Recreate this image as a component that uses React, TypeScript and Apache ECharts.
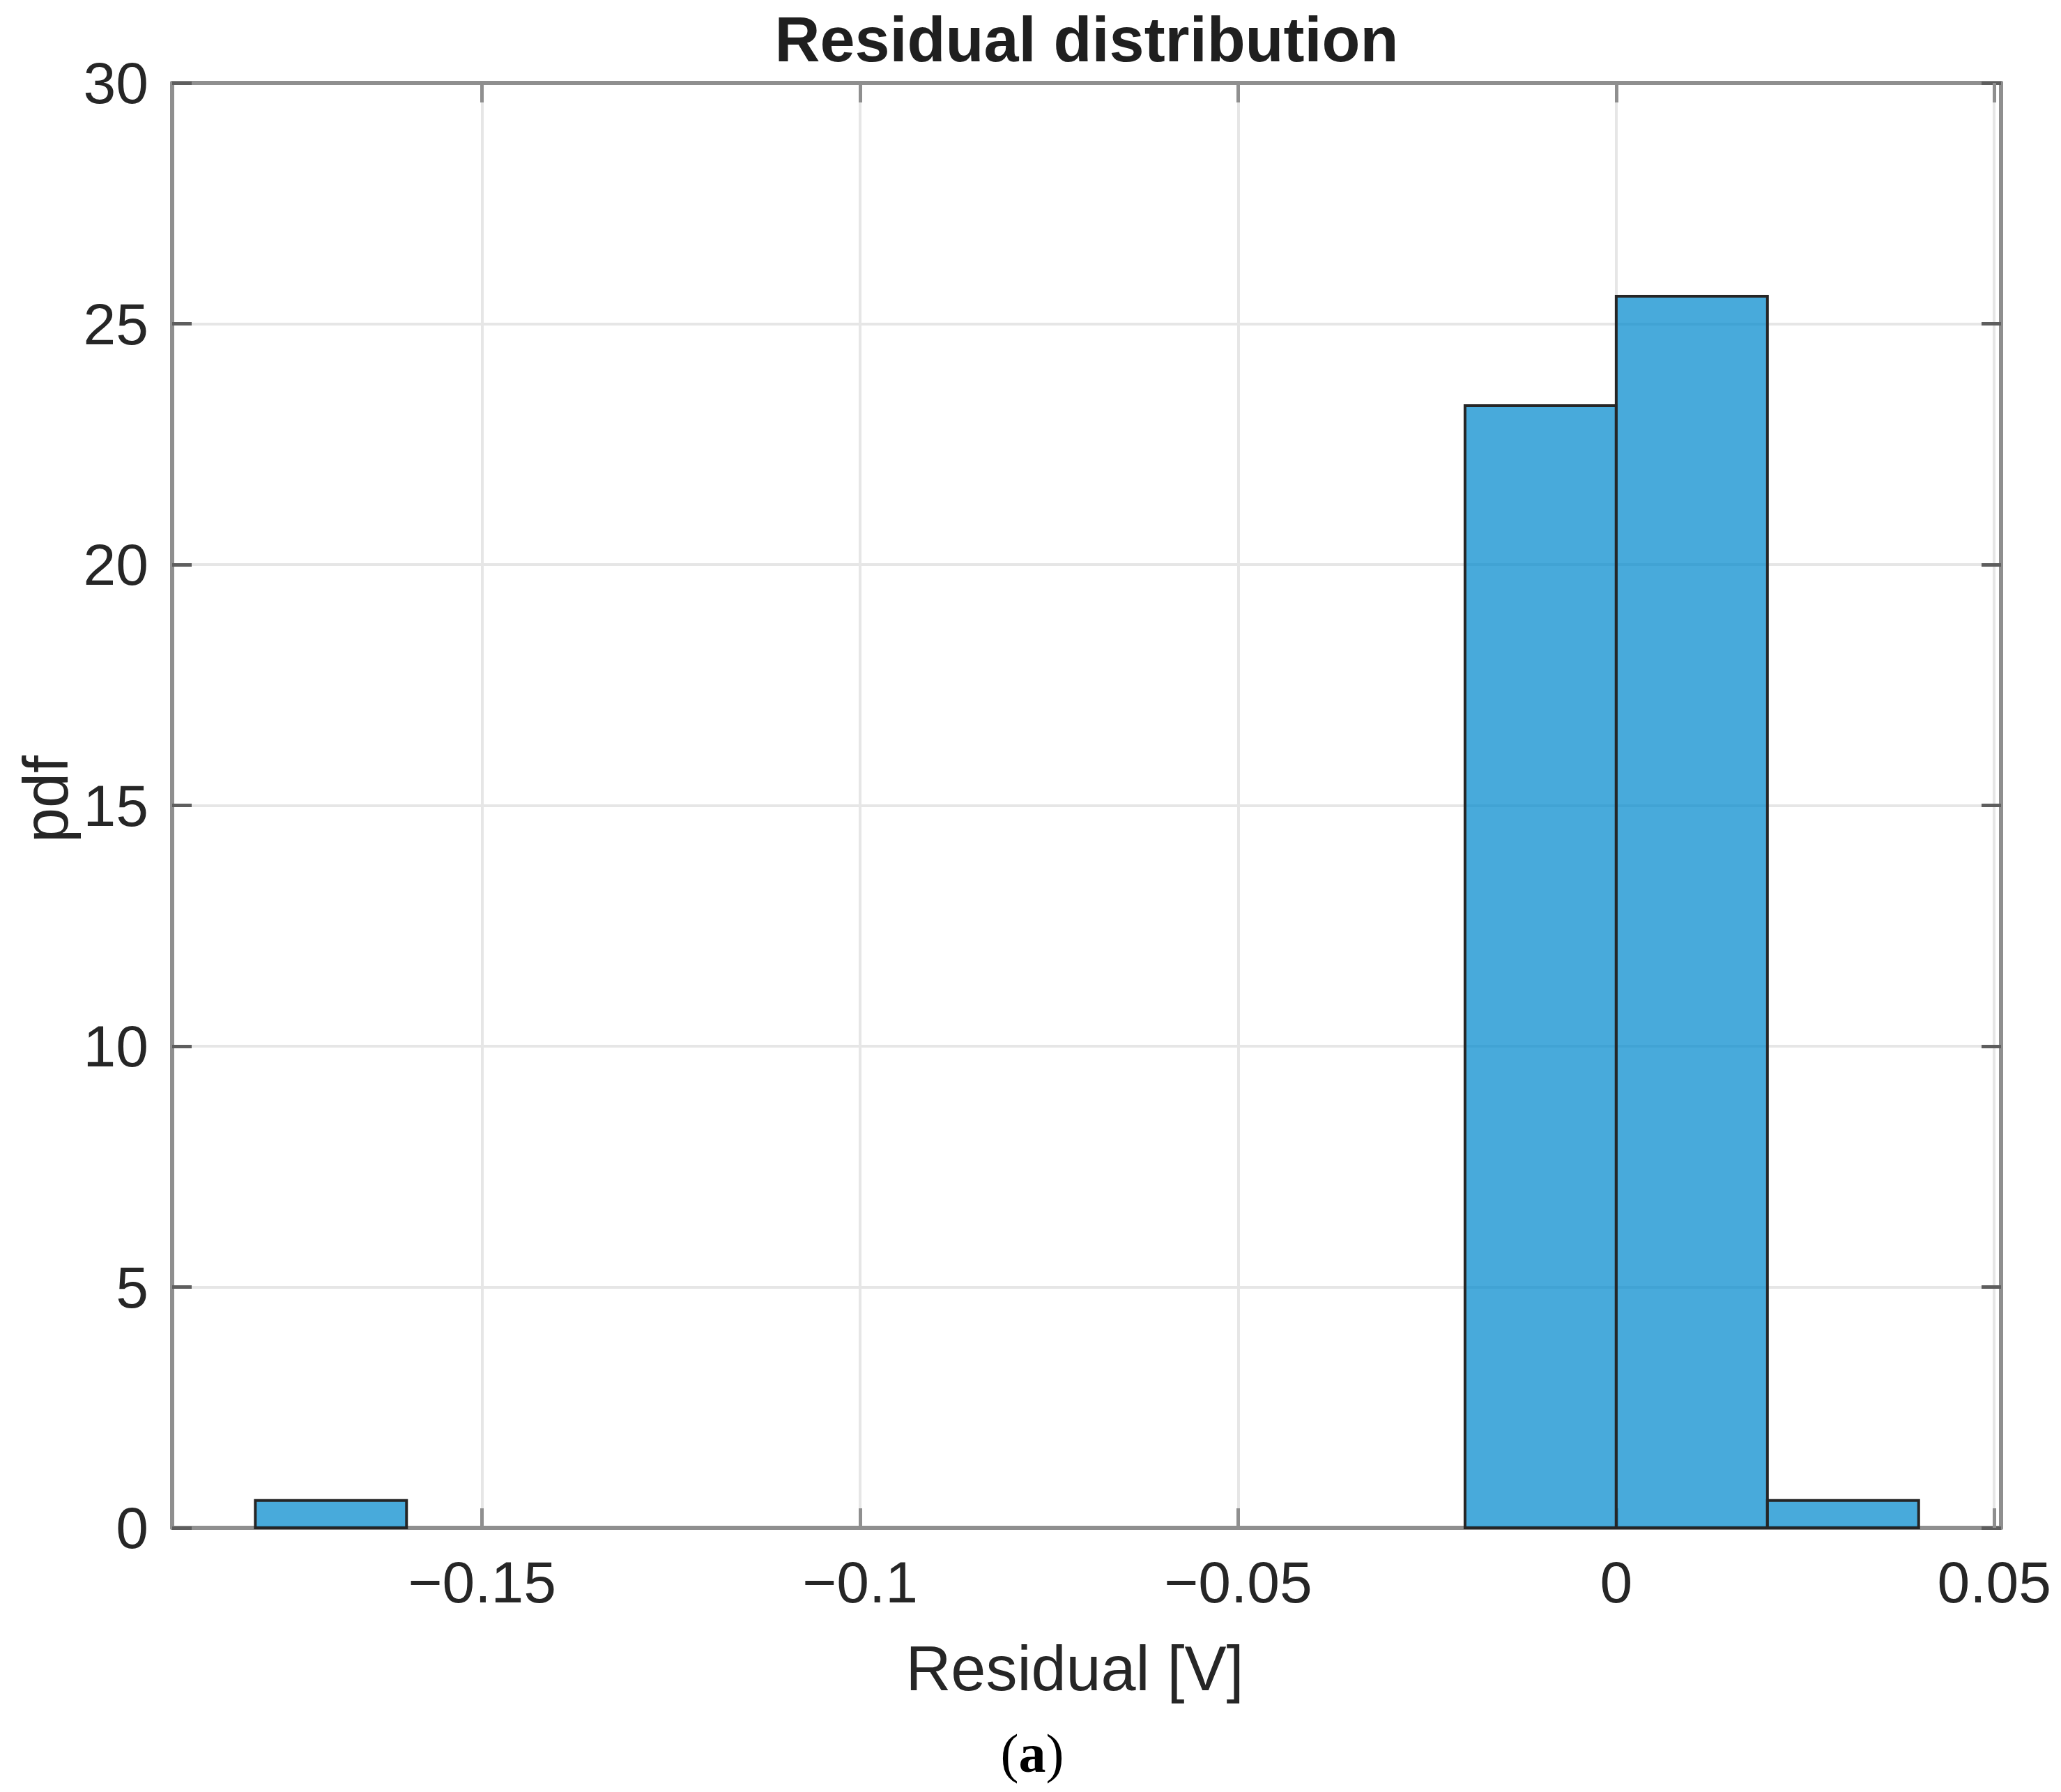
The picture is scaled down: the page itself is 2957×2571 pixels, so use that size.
import React, { useEffect, useRef } from 'react';
import * as echarts from 'echarts';

// ---- data ----
const binStarts = [-0.18, -0.02, 0, 0.02];
const binWidth = 0.02;
const pdfValues = [0.568, 23.3, 25.57, 0.568];
const xTicks = [-0.15, -0.1, -0.05, 0, 0.05];
const xMin = -0.191;
const xMax = 0.0509;
const yMin = 0;
const yMax = 30;
const yStep = 5;
const titleText = 'Residual distribution';
const xLabel = 'Residual [V]';
const yLabel = 'pdf';
const panelLabel = 'a';

const FONT = '"Liberation Sans", Arial, Helvetica, sans-serif';
const fmt = (v: number) => (v < 0 ? '\u2212' + String(Math.abs(v)) : String(v));

export default function App() {
  const ref = useRef<HTMLDivElement>(null);
  useEffect(() => {
    if (!ref.current) return;
    const chart = echarts.init(ref.current, null, { renderer: 'svg' });
    const W = 2957;
    const gridLeft = 247;
    const gridRight = 86;
    const gridTop = 119;
    const gridBottom = 379;
    const plotCenterX = gridLeft + (W - gridLeft - gridRight) / 2;

    const axisLineGray = { color: '#8f8f8f', width: 6 };
    const option: any = {
      animation: false,
      backgroundColor: '#ffffff',
      grid: {
        left: gridLeft,
        right: gridRight,
        top: gridTop,
        bottom: gridBottom,
        containLabel: false,
        outerBoundsMode: 'none',
      },
      graphic: [
        {
          type: 'text',
          x: plotCenterX,
          y: 57,
          style: {
            text: titleText,
            font: `bold 90px ${FONT}`,
            fill: '#1f1f1f',
            align: 'center',
            verticalAlign: 'middle',
          },
        },
        {
          type: 'text',
          x: 1481,
          y: 2515,
          style: {
            text: `{p|(}{a|${panelLabel}}{p|)}`,
            align: 'center',
            verticalAlign: 'middle',
            rich: {
              p: { fontFamily: '"Liberation Serif", "Times New Roman", serif', fontSize: 78, fill: '#000' },
              a: { fontFamily: '"Liberation Serif", "Times New Roman", serif', fontSize: 78, fontWeight: 'bold', fill: '#000' },
            },
          },
        },
      ],
      xAxis: [
        {
          type: 'value',
          position: 'bottom',
          min: xMin,
          max: xMax,
          name: xLabel,
          nameLocation: 'middle',
          nameGap: 157,
          nameMoveOverlap: false,
          nameTextStyle: { fontFamily: FONT, fontSize: 90, color: '#262626', padding: [0, 34, 0, 0] },
          axisLine: { show: true, onZero: false, lineStyle: axisLineGray },
          axisTick: {
            show: true,
            inside: true,
            length: 28,
            customValues: xTicks,
            lineStyle: { color: '#8f8f8f', width: 5 },
          },
          axisLabel: {
            show: true,
            customValues: xTicks,
            formatter: (v: number) => fmt(v),
            fontFamily: FONT,
            fontSize: 84,
            color: '#262626',
            margin: 36,
          },
          splitLine: { show: true, lineStyle: { color: '#e6e6e6', width: 4 } },
        },
        {
          type: 'value',
          position: 'top',
          min: xMin,
          max: xMax,
          axisLine: { show: true, onZero: false, lineStyle: axisLineGray },
          axisTick: {
            show: true,
            inside: true,
            length: 28,
            customValues: xTicks,
            lineStyle: { color: '#8f8f8f', width: 5 },
          },
          axisLabel: { show: false },
          splitLine: { show: false },
        },
      ],
      yAxis: [
        {
          type: 'value',
          position: 'left',
          min: yMin,
          max: yMax,
          interval: yStep,
          name: yLabel,
          nameLocation: 'middle',
          nameGap: 136,
          nameMoveOverlap: false,
          nameTextStyle: { fontFamily: FONT, fontSize: 90, color: '#262626', padding: [0, 0, 0, 18] },
          axisLine: { show: true, onZero: false, lineStyle: axisLineGray },
          axisTick: { show: true, inside: true, length: 28, lineStyle: { color: '#5e5e5e', width: 5 } },
          axisLabel: {
            show: true,
            fontFamily: FONT,
            fontSize: 84,
            color: '#262626',
            margin: 34,
            showMinLabel: true,
            showMaxLabel: true,
          },
          splitLine: { show: true, lineStyle: { color: '#e6e6e6', width: 4 } },
        },
        {
          type: 'value',
          position: 'right',
          min: yMin,
          max: yMax,
          interval: yStep,
          axisLine: { show: true, onZero: false, lineStyle: axisLineGray },
          axisTick: { show: true, inside: true, length: 28, lineStyle: { color: '#5e5e5e', width: 5 } },
          axisLabel: { show: false },
          splitLine: { show: false },
        },
      ],
      series: [
        {
          type: 'custom',
          xAxisIndex: 0,
          yAxisIndex: 0,
          data: binStarts.map((s, i) => [s, s + binWidth, pdfValues[i]]),
          encode: { x: [0, 1], y: 2 },
          renderItem: (params: any, api: any) => {
            const x0 = api.value(0);
            const x1 = api.value(1);
            const h = api.value(2);
            const p0 = api.coord([x0, h]);
            const p1 = api.coord([x1, 0]);
            return {
              type: 'rect',
              shape: { x: p0[0], y: p0[1], width: p1[0] - p0[0], height: p1[1] - p0[1] },
              style: { fill: 'rgba(1,137,205,0.72)', stroke: '#262626', lineWidth: 4 },
            };
          },
        },
      ],
    };
    chart.setOption(option);
    return () => chart.dispose();
  }, []);
  return (
    <div
      ref={ref}
      style={{ position: 'absolute', left: 0, top: 0, width: 2957, height: 2571, background: '#fff' }}
    />
  );
}
